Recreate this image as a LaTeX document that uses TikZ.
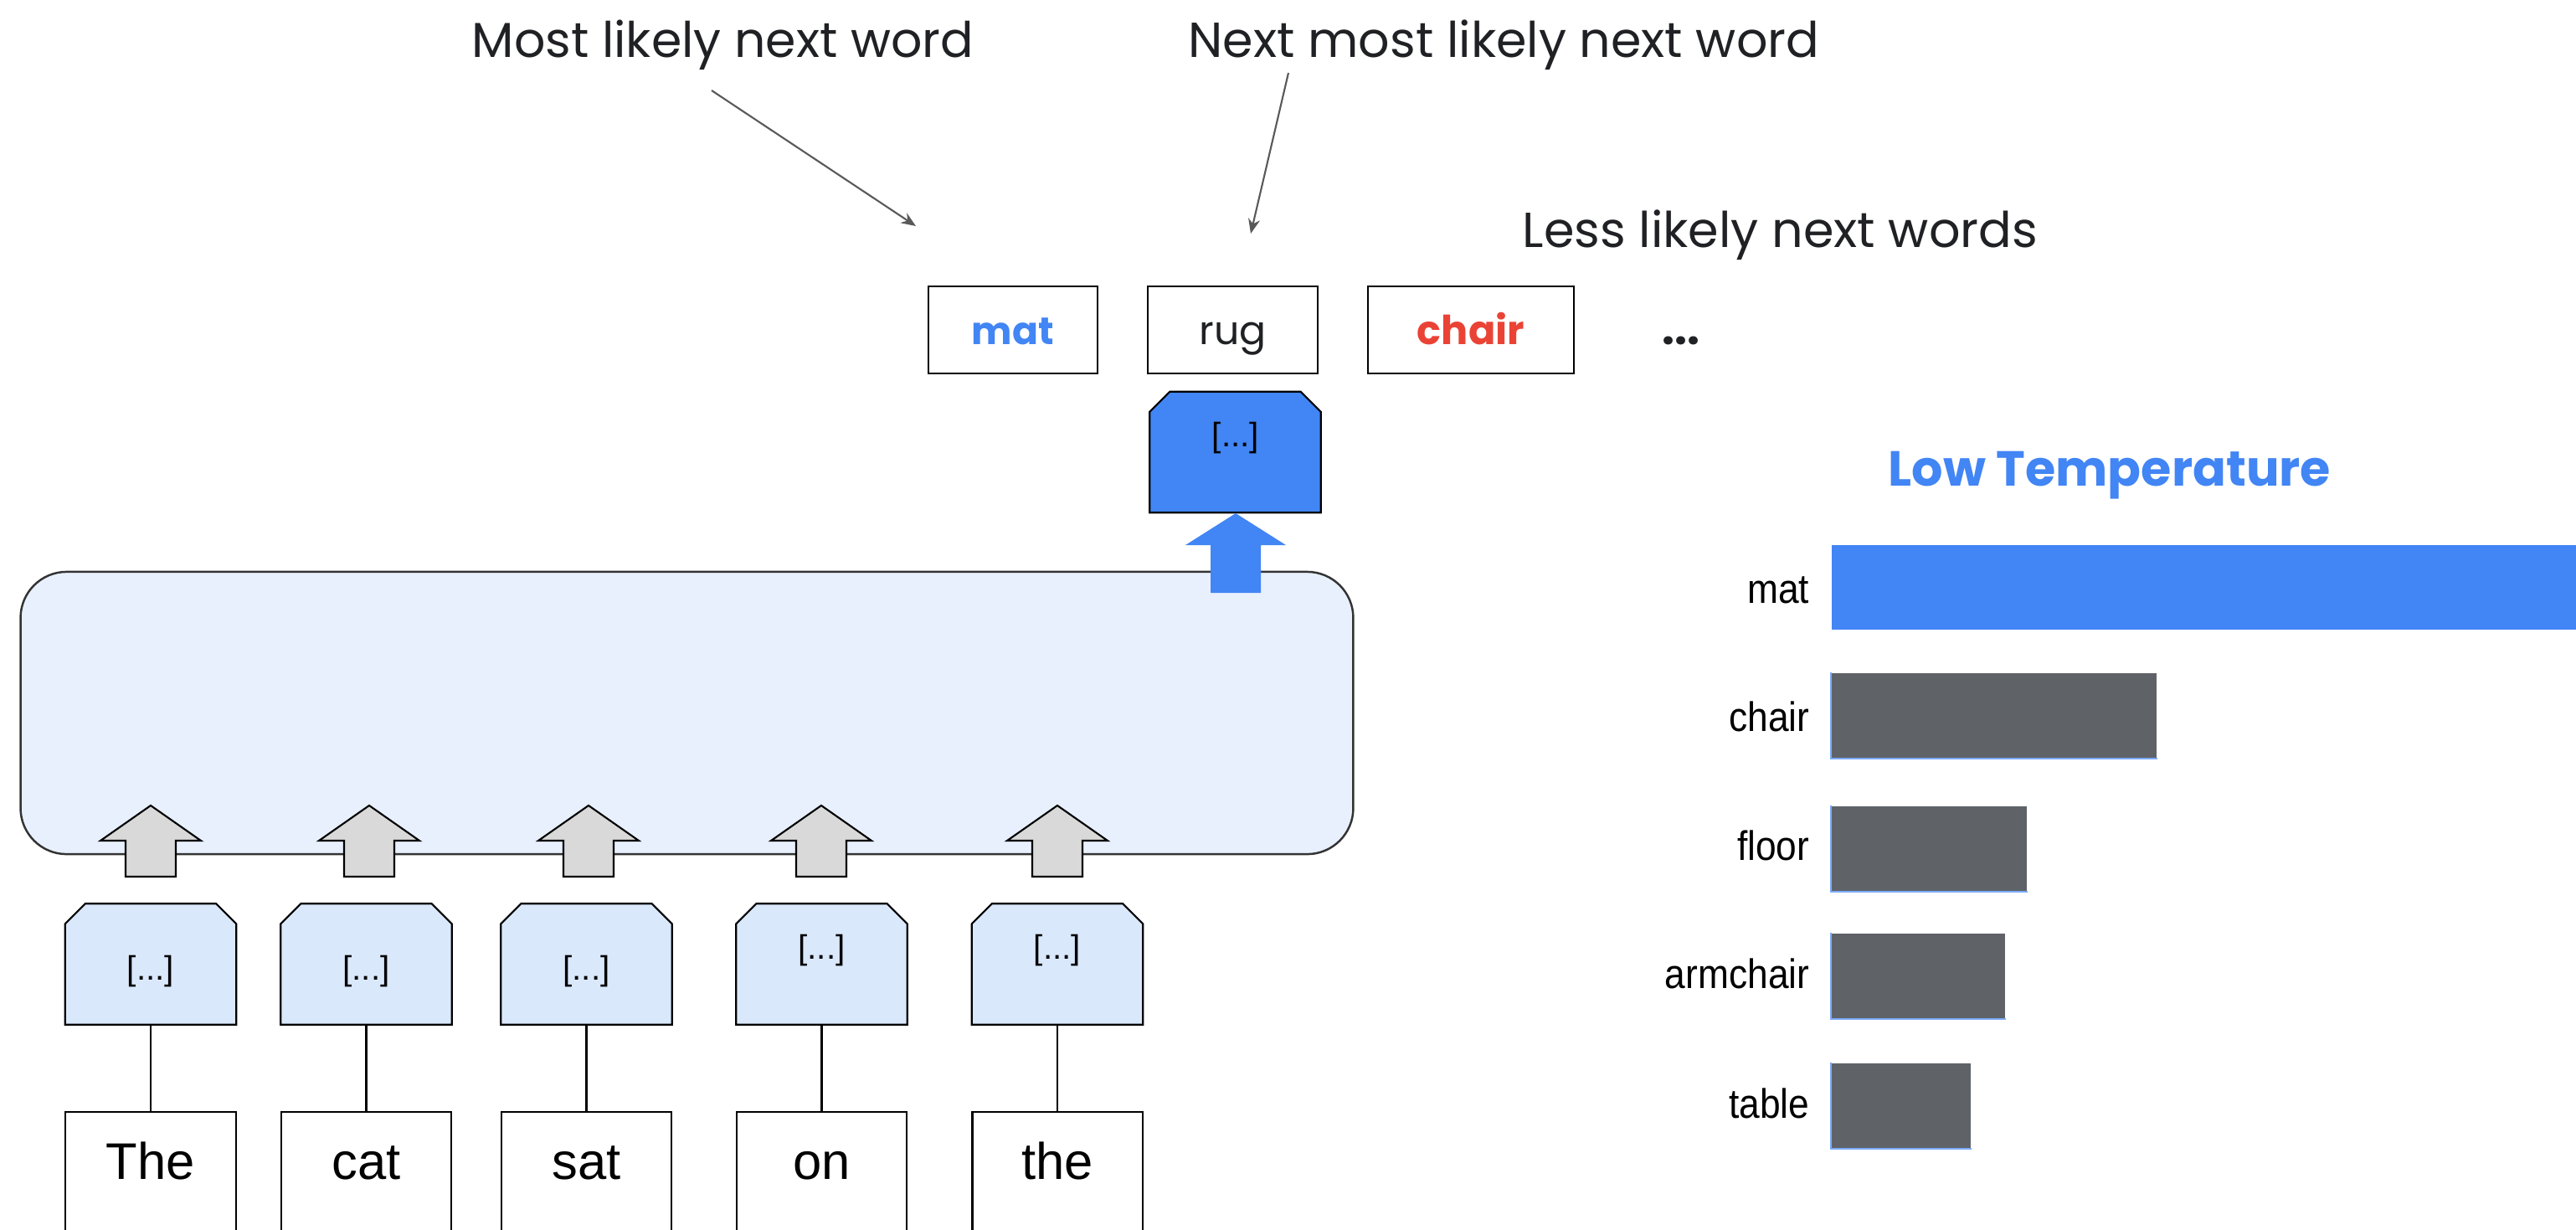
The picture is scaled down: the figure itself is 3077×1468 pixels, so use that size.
\documentclass[tikz,border=0pt]{standalone}
\usepackage{fontspec}
\usepackage{graphicx}
\setmainfont{Liberation Sans}
\newfontfamily\gsans{Poppins}
\usetikzlibrary{arrows.meta}
\definecolor{gblue}{HTML}{4285F4}
\definecolor{gred}{HTML}{EA4335}
\definecolor{gtext}{HTML}{202124}
\definecolor{ggray}{HTML}{5F6368}
\definecolor{boxfill}{HTML}{E8F0FE}
\definecolor{embfill}{HTML}{DAE8FC}
\definecolor{arrgray}{HTML}{D9D9D9}
\definecolor{linegray}{HTML}{595959}
\newcommand\fitw[2]{\resizebox{#1}{!}{#2}}
\newcommand\narrowtxt[1]{\scalebox{0.9}[1]{#1}}
\newcommand\chamferpath[2]{\path[#2] (#1.south west) -- ([yshift=-0.24cm]#1.north west) -- ([xshift=0.24cm]#1.north west) -- ([xshift=-0.24cm]#1.north east) -- ([yshift=-0.24cm]#1.north east) -- (#1.south east) -- cycle;}
\newcommand\grayblock[1]{\path[grayarrow] (#1,962) -- ++(60,42) -- ++(-30,0) -- ++(0,43) -- ++(-60,0) -- ++(0,-43) -- ++(-30,0) -- cycle;}
\begin{document}
\begin{tikzpicture}[x=0.01cm,y=-0.01cm,
  toplabel/.style={inner sep=0, text=gtext, font=\gsans},
  thinarrow/.style={draw=linegray, line width=0.6pt, -{Stealth[length=5pt,width=4pt]}},
  bigbox/.style={draw=black!80, fill=boxfill, line width=0.7pt, rounded corners=0.55cm, minimum width=15.91cm, minimum height=3.37cm, inner sep=0},
  wordbox/.style={draw=black, fill=white, line width=0.8pt, inner sep=0, minimum height=1.04cm, font=\gsans, text height=0.34cm, text depth=0cm},
  embbox/.style={inner sep=0, minimum width=2.03cm, minimum height=1.43cm},
  embshape/.style={draw=black, fill=embfill, line width=0.6pt},
  blueshape/.style={draw=black, fill=gblue, line width=0.6pt},
  embtxt/.style={inner sep=0, font=\fontsize{11.5pt}{13pt}\selectfont},
  grayarrow/.style={draw=black, fill=arrgray, line width=0.6pt},
  inbox/.style={draw=black, fill=white, line width=0.6pt, minimum width=2.03cm, minimum height=1.52cm, inner sep=0, font=\fontsize{17.5pt}{20pt}\selectfont, text height=0.58cm, text depth=0.5cm},
  conn/.style={draw=black, line width=0.6pt},
  barlabel/.style={anchor=base east, inner sep=0, font=\fontsize{14pt}{16pt}\selectfont},
  bar/.style={anchor=west, inner sep=0, minimum height=1.01cm},
  baredge/.style={draw=gblue!70, line width=0.5pt},
]
\useasboundingbox (0,0) rectangle (3077,1468);
\clip (0,0) rectangle (3077,1468);

% top labels and pointers
\node[toplabel, anchor=base west] (lmost) at (563,68) {\fitw{5.99cm}{Most likely next word}};
\node[toplabel, anchor=base west] (lnext) at (1419,68) {\fitw{7.53cm}{Next most likely next word}};
\node[toplabel, anchor=base west] (lless) at (1818,295) {\fitw{6.15cm}{Less likely next words}};
\coordinate (a1s) at (850,108);
\coordinate (a1e) at (1094,270);
\coordinate (a2s) at (1539,87);
\coordinate (a2e) at (1494,279);
\draw[thinarrow] (a1s) -- (a1e);
\draw[thinarrow] (a2s) -- (a2e);

% candidate words
\node[wordbox, minimum width=2.02cm] (wmat) at (1210,394) {\fitw{0.98cm}{\color{gblue}\bfseries mat}};
\node[wordbox, minimum width=2.03cm] (wrug) at (1472.5,394) {\fitw{0.80cm}{\color{gtext}rug}};
\node[wordbox, minimum width=2.46cm] (wchair) at (1757,394) {\fitw{1.28cm}{\color{gred}\bfseries chair}};
\node[toplabel, anchor=base] (wdots) at (2008,411) {\fitw{0.45cm}{\bfseries ...}};

% encoder block
\node[bigbox] (enc) at (820.5,851.5) {};

% output embedding (blue)
\node[embbox] (blk) at (1475.5,540) {};
\chamferpath{blk}{blueshape}
\node[embtxt] (blkt) at (1476,523) {[...]};
\path[fill=gblue] (1476,613) -- (1536,651) -- (1506,651) -- (1506,708) -- (1446,708) -- (1446,651) -- (1416,651) -- cycle;

% input arrows
\grayblock{180}
\grayblock{441}
\grayblock{703}
\grayblock{981}
\grayblock{1263}

% input embeddings
\node[embbox] (e1) at (180,1151.5) {};
\node[embbox] (e2) at (437.5,1151.5) {};
\node[embbox] (e3) at (700.5,1151.5) {};
\node[embbox] (e4) at (981.5,1151.5) {};
\node[embbox] (e5) at (1263,1151.5) {};
\chamferpath{e1}{embshape}
\chamferpath{e2}{embshape}
\chamferpath{e3}{embshape}
\chamferpath{e4}{embshape}
\chamferpath{e5}{embshape}
\node[embtxt] (e1t) at (180,1160) {[...]};
\node[embtxt] (e2t) at (437.5,1160) {[...]};
\node[embtxt] (e3t) at (700.5,1160) {[...]};
\node[embtxt] (e4t) at (981.5,1135) {[...]};
\node[embtxt] (e5t) at (1263,1135) {[...]};

% input words
\node[inbox] (w1) at (180,1404) {The};
\node[inbox] (w2) at (437.5,1404) {cat};
\node[inbox] (w3) at (700.5,1404) {sat};
\node[inbox] (w4) at (981.5,1404) {on};
\node[inbox] (w5) at (1263,1404) {the};
\draw[conn] (e1.south) -- (w1.north);
\draw[conn] (e2.south) -- (w2.north);
\draw[conn] (e3.south) -- (w3.north);
\draw[conn] (e4.south) -- (w4.north);
\draw[conn] (e5.south) -- (w5.north);

% chart
\node[toplabel, anchor=base west] (ltemp) at (2255,580) {\fitw{5.28cm}{\color{gblue}\bfseries Low Temperature}};
\node[bar, fill=gblue, minimum width=9.0cm] (b1) at (2187,701.5) {};
\node[bar, fill=ggray, minimum width=3.88cm] (b2) at (2187,854.5) {};
\node[bar, fill=ggray, minimum width=2.33cm] (b3) at (2187,1013.5) {};
\node[bar, fill=ggray, minimum width=2.07cm] (b4) at (2187,1165.5) {};
\node[bar, fill=ggray, minimum width=1.66cm] (b5) at (2187,1320.5) {};
\draw[baredge] (b2.north west) -- (b2.south west) -- (b2.south east);
\draw[baredge] (b3.north west) -- (b3.south west) -- (b3.south east);
\draw[baredge] (b4.north west) -- (b4.south west) -- (b4.south east);
\draw[baredge] (b5.north west) -- (b5.south west) -- (b5.south east);
\node[barlabel] (t1) at (2162,720) {\narrowtxt{mat}};
\node[barlabel] (t2) at (2162,873) {\narrowtxt{chair}};
\node[barlabel] (t3) at (2162,1027) {\narrowtxt{floor}};
\node[barlabel] (t4) at (2162,1180) {\narrowtxt{armchair}};
\node[barlabel] (t5) at (2162,1335) {\narrowtxt{table}};
\end{tikzpicture}
\end{document}
